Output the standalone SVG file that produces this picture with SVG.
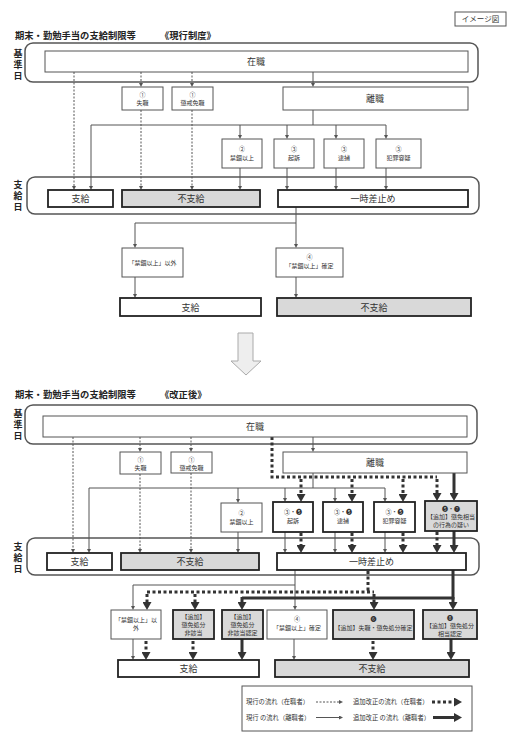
<svg xmlns="http://www.w3.org/2000/svg" width="520" height="743" viewBox="0 0 520 743">
<style>
text{font-family:"Noto Sans CJK JP","Noto Sans",sans-serif;fill:#333;text-anchor:middle}
.s{font-size:6px}
.m{font-size:9px}
.h{font-size:9.3px;font-weight:bold;fill:#222;text-anchor:start}
.v{font-size:9px;font-weight:bold;fill:#222;writing-mode:vertical-rl;text-anchor:start;letter-spacing:2px}
.lg{font-size:6.3px;text-anchor:start}
.frame{fill:none;stroke:#555;stroke-width:1.5}
.t{fill:#fff;stroke:#555;stroke-width:1}
.k{fill:#fff;stroke:#222;stroke-width:1.8}
.g{fill:#d9d9d9}
.ln{fill:none;stroke:#555;stroke-width:1}
.ds{fill:none;stroke:#555;stroke-width:1;stroke-dasharray:2 1.5}
.dt{fill:none;stroke:#333;stroke-width:3;stroke-dasharray:3 2.5}
.tk{fill:none;stroke:#333;stroke-width:3}
.a{marker-end:url(#ha)}
.b{marker-end:url(#hb)}
</style>
<defs>
<marker id="ha" viewBox="0 0 4 4" refX="0" refY="2" markerWidth="4" markerHeight="4" markerUnits="userSpaceOnUse" orient="auto"><path d="M0,0L4,2L0,4z" fill="#555"/></marker>
<marker id="hb" viewBox="0 0 8 9" refX="0" refY="4.5" markerWidth="8" markerHeight="9" markerUnits="userSpaceOnUse" orient="auto"><path d="M0,0L8,4.5L0,9z" fill="#333"/></marker>
</defs>
<rect width="520" height="743" fill="#fff"/>

<g id="image-label"><rect x="455" y="12" width="51" height="14" class="t"/><text x="480.5" y="22" style="font-size:7.5px">イメージ図</text></g>

<!-- ===== Current system ===== -->
<g id="title1"><text x="15" y="39" class="h">期末・勤勉手当の支給制限等</text><text x="160" y="39" class="h">《現行制度》</text></g>
<g id="frame1a"><rect x="25" y="43" width="453" height="39" rx="8" class="frame"/><text x="18" y="49" class="v">基準日</text></g>
<g id="frame1b"><rect x="27" y="177" width="452" height="37" rx="8" class="frame"/><text x="18" y="180" class="v">支給日</text></g>

<g id="connectors1">
<path class="ds a" d="M74,72V186"/>
<path class="ds a" d="M141,72V83"/><path class="ds a" d="M192,72V83"/>
<path class="ds a" d="M141,110V186"/><path class="ds a" d="M192,110V186"/>
<path class="ln a" d="M313,72V83"/>
<path class="ln" d="M313,110V125M91,125H386"/>
<path class="ln a" d="M91,125V186"/>
<path class="ln a" d="M240,125V135"/><path class="ln a" d="M287,125V135"/><path class="ln a" d="M336,125V135"/><path class="ln a" d="M386,125V135"/>
<path class="ln a" d="M240,168V186"/><path class="ln a" d="M287,168V186"/><path class="ln a" d="M336,168V186"/><path class="ln a" d="M386,168V186"/>
<path class="ln" d="M296,207V223H135"/>
<path class="ln a" d="M135,223V244"/><path class="ln a" d="M296,223V244"/>
<path class="ln a" d="M135,277V294"/><path class="ln a" d="M296,277V294"/>
</g>

<g id="n1-zaishoku"><rect x="45" y="51" width="423" height="21" class="t"/><text x="256" y="65" class="m">在職</text></g>
<g id="n1-shisshoku"><rect x="122" y="87" width="41" height="23" class="t"/><text x="142.5" y="97" class="s">①</text><text x="142.5" y="105" class="s">失職</text></g>
<g id="n1-choukai"><rect x="172" y="87" width="41" height="23" class="t"/><text x="192.5" y="97" class="s">①</text><text x="192.5" y="105" class="s">懲戒免職</text></g>
<g id="n1-rishoku"><rect x="283" y="87" width="185" height="23" class="t"/><text x="375" y="102" class="m">離職</text></g>
<g id="n1-kinko"><rect x="222" y="139" width="40" height="29" class="t"/><text x="242" y="151" class="s">②</text><text x="242" y="160" class="s">禁錮以上</text></g>
<g id="n1-kiso"><rect x="274" y="139" width="40" height="29" class="t"/><text x="294" y="151" class="s">③</text><text x="294" y="160" class="s">起訴</text></g>
<g id="n1-taiho"><rect x="324" y="139" width="40" height="29" class="t"/><text x="344" y="151" class="s">③</text><text x="344" y="160" class="s">逮捕</text></g>
<g id="n1-yougi"><rect x="376" y="139" width="45" height="29" class="t"/><text x="398.5" y="151" class="s">③</text><text x="398.5" y="160" class="s">犯罪容疑</text></g>
<g id="n1-shikyu"><rect x="48" y="190" width="65" height="17" class="k"/><text x="80.5" y="202" class="m">支給</text></g>
<g id="n1-fushikyu"><rect x="122" y="190" width="138" height="17" class="k g"/><text x="191" y="202" class="m">不支給</text></g>
<g id="n1-sashitome"><rect x="278" y="190" width="190" height="17" class="k"/><text x="373" y="202" class="m">一時差止め</text></g>
<g id="n1-igai"><rect x="122" y="248" width="61" height="29" class="t"/><text x="152.5" y="265" class="s">「禁錮以上」以外</text></g>
<g id="n1-kakutei"><rect x="276" y="248" width="67" height="29" class="t"/><text x="309.5" y="259" class="s">④</text><text x="309.5" y="268" class="s">「禁錮以上」確定</text></g>
<g id="n1-shikyu2"><rect x="120" y="298" width="141" height="18" class="k"/><text x="190.5" y="310.5" class="m">支給</text></g>
<g id="n1-fushikyu2"><rect x="277" y="298" width="194" height="18" class="k g"/><text x="374" y="310.5" class="m">不支給</text></g>

<g id="big-arrow"><path d="M238,333H253V361H261L246,375L231,361H238Z" fill="#eee" stroke="#aaa" stroke-width="1"/></g>

<!-- ===== Revised system ===== -->
<g id="title2"><text x="15" y="398" class="h">期末・勤勉手当の支給制限等</text><text x="160" y="398" class="h">《改正後》</text></g>
<g id="frame2a"><rect x="25" y="405" width="452" height="39" rx="8" class="frame"/><text x="18" y="409.5" class="v">基準日</text></g>
<g id="frame2b"><rect x="27" y="538" width="452" height="37" rx="8" class="frame"/><text x="18" y="542.5" class="v">支給日</text></g>

<g id="connectors2">
<path class="ds a" d="M73,437V549"/>
<path class="ds a" d="M140,437V448"/><path class="ds a" d="M191,437V448"/>
<path class="ds a" d="M140,474V549"/><path class="ds a" d="M191,473V549"/>
<path class="ln a" d="M313,437V448"/>
<path class="ln" d="M313,473V488M89,488H385"/>
<path class="ln a" d="M89,488V549"/>
<path class="ln a" d="M238,488V499"/><path class="ln a" d="M285,488V498"/><path class="ln a" d="M335,488V498"/><path class="ln a" d="M385,488V498"/>
<path class="dt" d="M272,437V477H437"/>
<path class="dt b" d="M301,479V494"/><path class="dt b" d="M352,479V494"/><path class="dt b" d="M403,479V494"/><path class="dt b" d="M437,479V493"/>
<path class="tk b" d="M454,473V493"/>
<path class="ln a" d="M238,532V549"/><path class="ln a" d="M285,532V549"/><path class="ln a" d="M335,532V549"/><path class="ln a" d="M385,532V549"/>
<path class="dt b" d="M301,533V545"/><path class="dt b" d="M352,533V545"/><path class="dt b" d="M403,533V545"/><path class="dt b" d="M437,532V545"/>
<path class="tk b" d="M454,531V545"/>
<path class="ln" d="M295,570V585H133"/>
<path class="ln a" d="M133,585V606"/><path class="ln a" d="M295,585V606"/>
<path class="dt" d="M368,571V592M147,592H374"/>
<path class="dt b" d="M147,594V602"/><path class="dt b" d="M195,594V602"/><path class="dt b" d="M374,594V602"/>
<path class="tk" d="M453,570V598M242,598H454.5"/>
<path class="tk b" d="M242,597V602"/><path class="tk b" d="M453,597V602"/>
<path class="ln a" d="M133,639V656"/><path class="dt b" d="M146,641V652"/><path class="dt b" d="M193,641V652"/><path class="tk b" d="M242,639V652"/>
<path class="ln a" d="M294,639V656"/><path class="dt b" d="M373,641V652"/><path class="tk b" d="M451,639V652"/>
</g>

<g id="n2-zaishoku"><rect x="43" y="416" width="424" height="21" class="t"/><text x="255" y="430" class="m">在職</text></g>
<g id="n2-shisshoku"><rect x="120" y="452" width="41" height="22" class="t"/><text x="140.5" y="461.5" class="s">①</text><text x="140.5" y="469.5" class="s">失職</text></g>
<g id="n2-choukai"><rect x="171" y="452" width="41" height="21" class="t"/><text x="191.5" y="461.5" class="s">①</text><text x="191.5" y="469.5" class="s">懲戒免職</text></g>
<g id="n2-rishoku"><rect x="283" y="452" width="184" height="21" class="t"/><text x="375" y="466" class="m">離職</text></g>
<g id="n2-kinko"><rect x="221" y="503" width="41" height="29" class="t"/><text x="241.5" y="515" class="s">②</text><text x="241.5" y="524" class="s">禁錮以上</text></g>
<g id="n2-kiso"><rect x="273" y="502" width="40" height="30" class="k"/><text x="293" y="514" class="s">③・❺</text><text x="293" y="523" class="s">起訴</text></g>
<g id="n2-taiho"><rect x="323" y="502" width="40" height="30" class="k"/><text x="343" y="514" class="s">③・❺</text><text x="343" y="523" class="s">逮捕</text></g>
<g id="n2-yougi"><rect x="374" y="502" width="41" height="30" class="k"/><text x="394.5" y="514" class="s">③・❺</text><text x="394.5" y="523" class="s">犯罪容疑</text></g>
<g id="n2-utagai"><rect x="425" y="501" width="52" height="30" class="k g"/><text x="451" y="511" class="s">❺・❼</text><text x="451" y="519" class="s">【追加】懲免相当</text><text x="451" y="527" class="s">の行為の疑い</text></g>
<g id="n2-shikyu"><rect x="47" y="553" width="65" height="17" class="k"/><text x="79.5" y="565" class="m">支給</text></g>
<g id="n2-fushikyu"><rect x="121" y="553" width="138" height="17" class="k g"/><text x="190" y="565" class="m">不支給</text></g>
<g id="n2-sashitome"><rect x="277" y="553" width="189" height="17" class="k"/><text x="371.5" y="565" class="m">一時差止め</text></g>
<g id="n2-igai"><rect x="111" y="610" width="50" height="29" class="t"/><text x="136" y="622" class="s">「禁錮以上」以</text><text x="136" y="630" class="s">外</text></g>
<g id="n2-higaitou"><rect x="173" y="610" width="41" height="29" class="k g"/><text x="193.5" y="619" class="s">【追加】</text><text x="193.5" y="627" class="s">懲免処分</text><text x="193.5" y="635" class="s">非該当</text></g>
<g id="n2-higaitou2"><rect x="222" y="610" width="41" height="29" class="k g"/><text x="242.5" y="619" class="s">【追加】</text><text x="242.5" y="627" class="s">懲免処分</text><text x="242.5" y="635" class="s">非該当認定</text></g>
<g id="n2-kakutei"><rect x="267" y="610" width="60" height="29" class="t"/><text x="297" y="621" class="s">④</text><text x="297" y="630" class="s">「禁錮以上」確定</text></g>
<g id="n2-shobun"><rect x="333" y="610" width="81" height="29" class="k g"/><text x="373.5" y="621" class="s">❻</text><text x="373.5" y="630" class="s">【追加】失職・懲免処分確定</text></g>
<g id="n2-nintei"><rect x="423" y="610" width="54" height="29" class="k g"/><text x="450" y="620" class="s">❽</text><text x="450" y="628" class="s">【追加】懲免処分</text><text x="450" y="636" class="s">相当認定</text></g>
<g id="n2-shikyu2"><rect x="118" y="660" width="141" height="17" class="k"/><text x="188.5" y="672" class="m">支給</text></g>
<g id="n2-fushikyu2"><rect x="275" y="660" width="194" height="17" class="k g"/><text x="372" y="672" class="m">不支給</text></g>

<g id="legend">
<rect x="242" y="686" width="230" height="45" class="t"/>
<text x="246" y="704" class="lg">現行の流れ（在職者）</text>
<path class="ds a" d="M316,702H339"/>
<text x="353" y="704" class="lg">追加改正の流れ（在職者）</text>
<path class="dt b" d="M432,702H454"/>
<text x="246" y="719.5" class="lg">現行 の流れ（離職者）</text>
<path class="ln a" d="M316,717.5H339"/>
<text x="353" y="719.5" class="lg">追加改正 の流れ（離職者）</text>
<path class="tk b" d="M433,717.5H454"/>
</g>
</svg>
